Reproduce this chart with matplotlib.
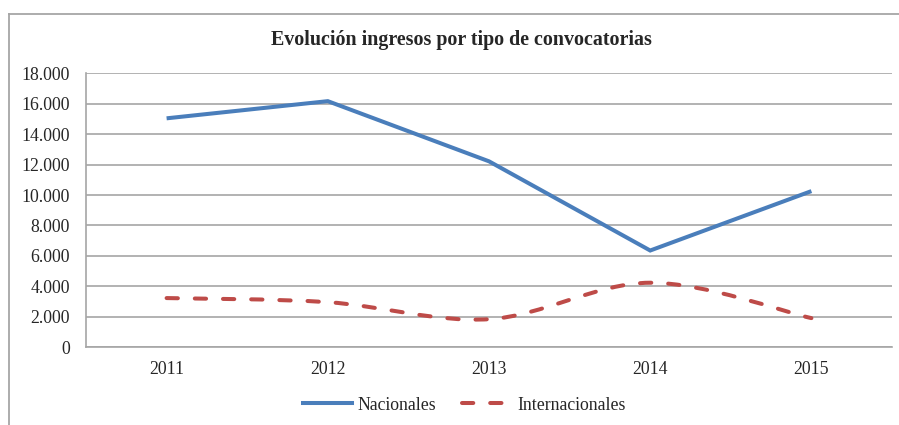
import matplotlib
matplotlib.use("Agg")
import matplotlib.pyplot as plt
from matplotlib.path import Path
from matplotlib.patches import PathPatch
from matplotlib.lines import Line2D
from matplotlib.ticker import FuncFormatter
import numpy as np

years = ["2011", "2012", "2013", "2014", "2015"]
nacionales = [15050, 16180, 12220, 6350, 10260]
internacionales = [3220, 2950, 1830, 4230, 1900]
title = "Evolución ingresos por tipo de convocatorias"
series_names = ["Nacionales", "Internacionales"]
y_ticks = [0, 2000, 4000, 6000, 8000, 10000, 12000, 14000, 16000, 18000]

plt.rcParams['font.family'] = ['Liberation Serif', 'DejaVu Serif']

W, H = 899, 425
fig = plt.figure(figsize=(W / 100, H / 100), dpi=100)

# outer chart frame (only top and left visible, like the reference)
frame_kw = dict(transform=fig.transFigure, color="#a6a6a6", linewidth=1.3)
fig.add_artist(Line2D([9 / W, 1.0], [(H - 14) / H, (H - 14) / H], **frame_kw))
fig.add_artist(Line2D([9 / W, 9 / W], [0.0, (H - 14) / H], **frame_kw))

ax = fig.add_axes([86 / W, (H - 347) / H, (892 - 86) / W, (347 - 73.5) / H])

x = np.arange(len(years))
blue = "#4a7ebb"
red = "#be4b48"
fs = 12.8

ax.plot(x, nacionales, color=blue, linewidth=2.9, solid_capstyle="butt",
        solid_joinstyle="miter", zorder=3)

# smoothed line (Excel style) for Internacionales, built from the data
pts = np.column_stack([x, internacionales]).astype(float)
ext = np.vstack([pts[0], pts, pts[-1]])
verts = [tuple(pts[0])]
codes = [Path.MOVETO]
for i in range(len(pts) - 1):
    p0, p1, p2, p3 = ext[i], ext[i + 1], ext[i + 2], ext[i + 3]
    c1 = p1 + (p2 - p0) / 6.0
    c2 = p2 - (p3 - p1) / 6.0
    verts += [tuple(c1), tuple(c2), tuple(p2)]
    codes += [Path.CURVE4] * 3
patch = PathPatch(Path(verts, codes), facecolor="none", edgecolor=red,
                  linewidth=2.9, linestyle=(0, (2.8, 4.2)), capstyle="round",
                  zorder=3)
ax.add_patch(patch)

ax.set_xlim(-0.5, len(years) - 0.5)
ax.set_ylim(0, 18000)
ax.set_yticks(y_ticks)
ax.yaxis.set_major_formatter(FuncFormatter(lambda v, p: f"{int(v):,}".replace(",", ".")))
ax.set_xticks(x)
ax.set_xticklabels(years)
ax.grid(axis="y", color="#a6a6a6", linewidth=1.2)
ax.set_axisbelow(True)
for s in ["top", "right"]:
    ax.spines[s].set_visible(False)
for s in ["left", "bottom"]:
    ax.spines[s].set_color("#a6a6a6")
    ax.spines[s].set_linewidth(1.2)
ax.tick_params(axis="both", length=0, labelsize=fs, colors="#262626")
ax.tick_params(axis="y", pad=11.5)
ax.tick_params(axis="x", pad=10)

fig.text(461 / W, (H - 40) / H, title, ha="center", va="center",
         fontsize=14.4, fontweight="bold", color="#262626")

handles = [Line2D([], [], color=blue, linewidth=2.9),
           Line2D([], [], color=red, linewidth=2.9, linestyle=(0, (2.8, 4.2)),
                  dash_capstyle="round")]
leg = fig.legend(handles, series_names, loc="center", ncol=2,
                 bbox_to_anchor=(464 / W, (H - 405) / H), frameon=False,
                 fontsize=fs, handlelength=2.8, handletextpad=0.3,
                 columnspacing=1.45, borderpad=0, borderaxespad=0)
for t in leg.get_texts():
    t.set_color("#262626")

fig.savefig("out.png", dpi=100)
